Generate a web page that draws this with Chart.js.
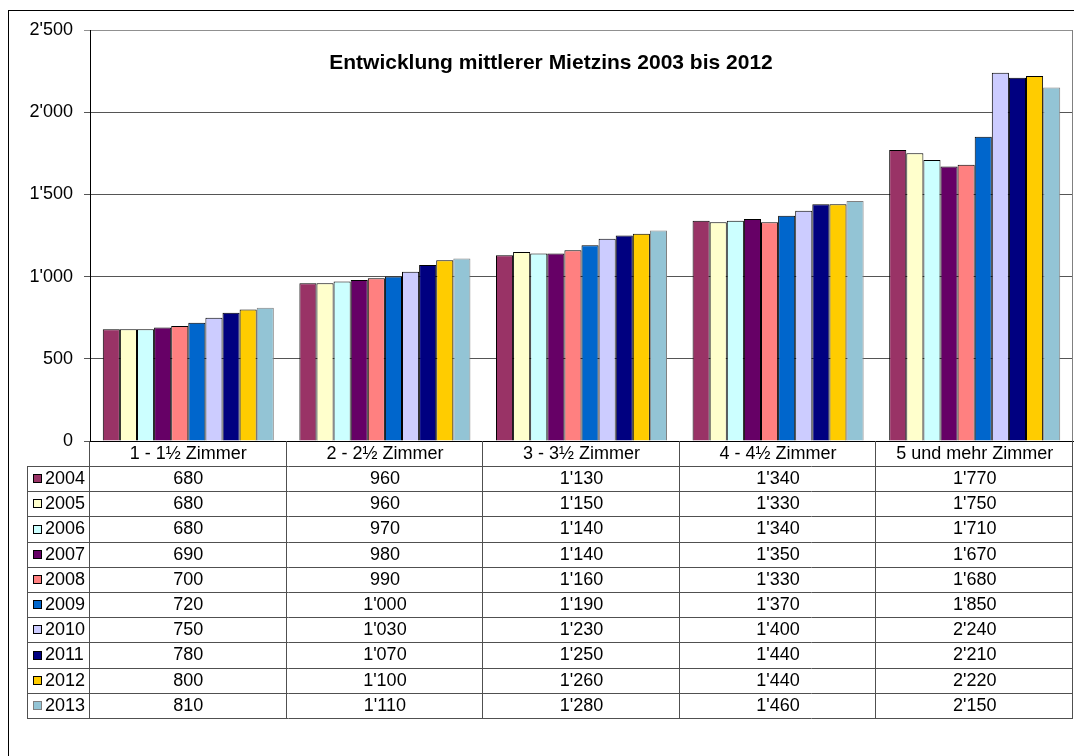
<!DOCTYPE html>
<html>
<head>
<meta charset="utf-8">
<script src="https://cdn.jsdelivr.net/npm/chart.js@4/dist/chart.umd.min.js"></script>
<style>
  body { margin: 0; background: #fff; }
  canvas { display: block; }
</style>
</head>
<body>
<canvas id="canvas" width="1074" height="756"></canvas>
<script>
// Kategorien (Zimmerzahl)
const categories = ['1 - 1½ Zimmer', '2 - 2½ Zimmer', '3 - 3½ Zimmer', '4 - 4½ Zimmer', '5 und mehr Zimmer'];
const years = ['2004', '2005', '2006', '2007', '2008', '2009', '2010', '2011', '2012', '2013'];

// Mietzins je Jahr
const v2004 = [680, 960, 1130, 1340, 1770];
const v2005 = [680, 960, 1150, 1330, 1750];
const v2006 = [680, 970, 1140, 1340, 1710];
const v2007 = [690, 980, 1140, 1350, 1670];
const v2008 = [700, 990, 1160, 1330, 1680];
const v2009 = [720, 1000, 1190, 1370, 1850];
const v2010 = [750, 1030, 1230, 1400, 2240];
const v2011 = [780, 1070, 1250, 1440, 2210];
const v2012 = [800, 1100, 1260, 1440, 2220];
const v2013 = [810, 1110, 1280, 1460, 2150];

const yTicks = [0, 500, 1000, 1500, 2000, 2500];
const title = 'Entwicklung mittlerer Mietzins 2003 bis 2012';

const allValues = [v2004, v2005, v2006, v2007, v2008, v2009, v2010, v2011, v2012, v2013];
const colors = ['#993366', '#FFFFCC', '#CCFFFF', '#660066', '#FF8080', '#0066CC', '#CCCCFF', '#000080', '#FFCC00', '#93C4D5'];
const borders = ['#000', '#000', '#000', '#000', '#000', '#000', '#000', '#000', '#000', '#808080'];

const FONT = 'Arial, "Liberation Sans", sans-serif';

// Zahl mit Apostroph formatieren (1'000)
function fmt(n) {
	return String(n).replace(/\B(?=(\d{3})+(?!\d))/g, "'");
}

const datasets = years.map(function (y, i) {
	return {
		label: y,
		data: allValues[i],
		backgroundColor: colors[i],
		borderColor: borders[i],
		borderWidth: 1,
		barPercentage: 1.0,
		categoryPercentage: 0.87,
	};
});

// Titel, Rahmen und Datentabelle zeichnen
const tablePlugin = {
	id: 'tablePlugin',
	afterDraw: function (chart) {
		const ctx = chart.ctx;
		const area = chart.chartArea;
		const xs = chart.scales.x;
		const catW = (area.right - area.left) / categories.length;
		const tableLeft = 27;
		const headTop = area.bottom;
		const rowTop = headTop + 25;
		const rowH = 25.2;
		const tableBottom = rowTop + rowH * years.length;

		ctx.save();
		// äusserer Rahmen
		ctx.strokeStyle = '#000';
		ctx.lineWidth = 1;
		ctx.strokeRect(8.5, 10.5, 1100, 800);

		// rechter Rand Zeichnungsfläche
		ctx.strokeStyle = '#808080';
		ctx.beginPath();
		ctx.moveTo(Math.round(area.right) - 0.5, area.top);
		ctx.lineTo(Math.round(area.right) - 0.5, area.bottom);
		ctx.stroke();

		// Titel
		ctx.fillStyle = '#000';
		ctx.font = 'bold 21px ' + FONT;
		ctx.textAlign = 'center';
		ctx.textBaseline = 'middle';
		ctx.fillText(title, 551, 63);

		// Tabellenlinien
		ctx.strokeStyle = '#505050';
		ctx.beginPath();
		for (let r = 0; r <= years.length; r++) {
			const y = Math.round(rowTop + r * rowH) + 0.5;
			ctx.moveTo(tableLeft, y);
			ctx.lineTo(area.right, y);
		}
		ctx.moveTo(tableLeft + 0.5, rowTop);
		ctx.lineTo(tableLeft + 0.5, tableBottom);
		for (let c = 0; c <= categories.length; c++) {
			const x = Math.round(area.left + c * catW) - 0.5;
			ctx.moveTo(x, headTop);
			ctx.lineTo(x, tableBottom);
		}
		ctx.stroke();

		// Kategorien
		ctx.font = '18px ' + FONT;
		ctx.fillStyle = '#000';
		categories.forEach(function (cat, i) {
			ctx.fillText(cat, xs.getPixelForValue(i), headTop + 13);
		});

		// Zeilen
		years.forEach(function (y, r) {
			const cy = rowTop + r * rowH + rowH / 2 + 0.5;
			ctx.fillStyle = colors[r];
			ctx.fillRect(33, Math.round(cy - 5), 9, 9);
			ctx.strokeStyle = borders[r] === '#000' ? '#000' : '#808080';
			ctx.strokeRect(33.5, Math.round(cy - 5) + 0.5, 8, 8);
			ctx.fillStyle = '#000';
			ctx.textAlign = 'left';
			ctx.fillText(y, 45, cy);
			ctx.textAlign = 'center';
			allValues[r].forEach(function (v, i) {
				ctx.fillText(fmt(v), xs.getPixelForValue(i), cy);
			});
		});
		ctx.restore();
	}
};

const config = {
	type: 'bar',
	data: { labels: categories, datasets: datasets },
	options: {
		responsive: false,
		animation: false,
		devicePixelRatio: 1,
		layout: { padding: { top: 30, left: 0, right: 1, bottom: 315 } },
		plugins: {
			legend: { display: false },
			title: { display: false },
			tooltip: { enabled: false },
		},
		scales: {
			x: {
				ticks: { display: false },
				grid: { display: false },
				border: { display: true, color: '#000' },
				afterFit: function (scale) { scale.height = 0; },
			},
			y: {
				min: 0,
				max: 2500,
				afterBuildTicks: function (scale) {
					scale.ticks = yTicks.map(function (v) { return { value: v }; });
				},
				ticks: {
					color: '#000',
					font: { family: FONT, size: 18 },
					padding: 11,
					callback: function (v) { return fmt(v); },
				},
				grid: {
					color: function (c) { return c.tick && c.tick.value === 2500 ? '#909090' : '#555'; },
					tickLength: 6,
				},
				border: { color: '#000' },
				afterFit: function (scale) { scale.width = 90; },
			},
		},
	},
	plugins: [tablePlugin],
};

window.onload = function () {
	const canvas = document.getElementById('canvas');
	new Chart(canvas, config);
};
</script>
</body>
</html>
